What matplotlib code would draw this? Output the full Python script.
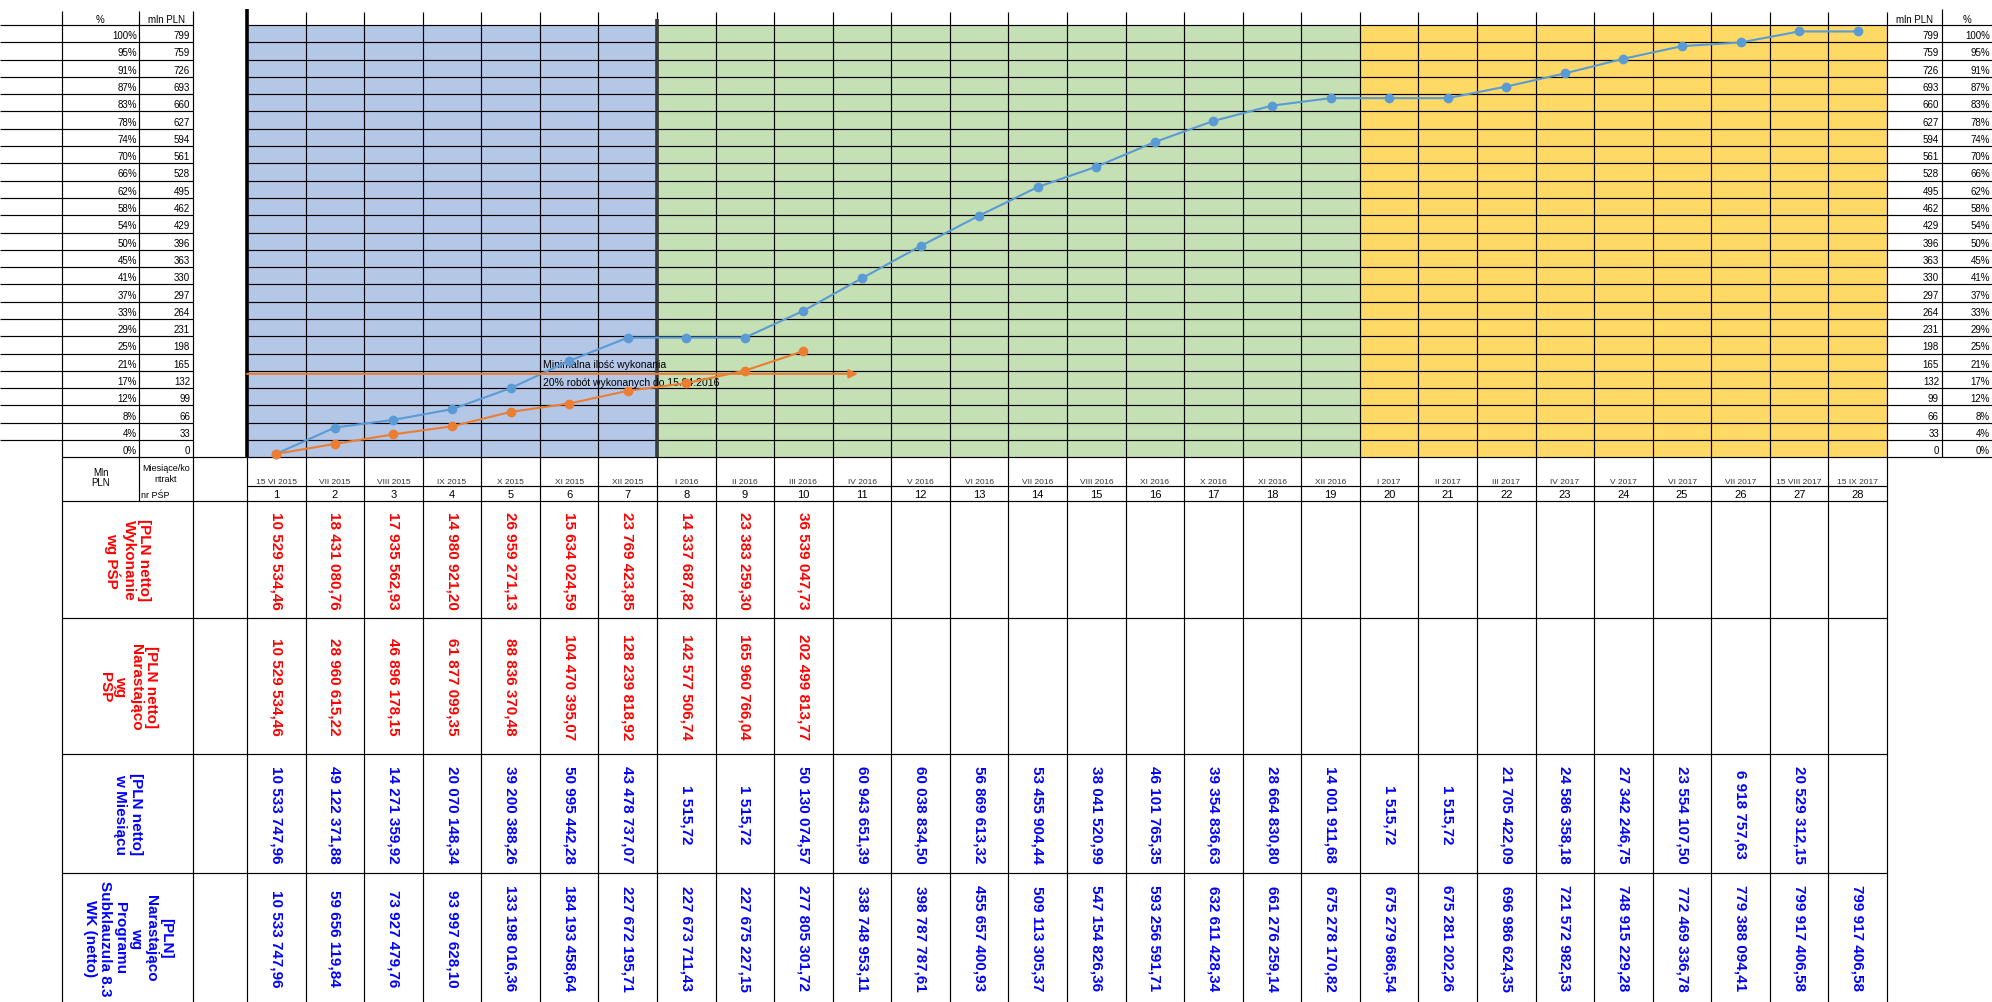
import matplotlib
matplotlib.use('Agg')
import matplotlib.pyplot as plt
from matplotlib.patches import Rectangle
import numpy as np

plt.rcParams['font.family'] = ['Liberation Sans', 'DejaVu Sans']

# data
months = ['15 VI 2015', 'VII 2015', 'VIII 2015', 'IX 2015', 'X 2015', 'XI 2015', 'XII 2015',
          'I 2016', 'II 2016', 'III 2016', 'IV 2016', 'V 2016', 'VI 2016', 'VII 2016',
          'VIII 2016', 'XI 2016', 'X 2016', 'XI 2016', 'XII 2016', 'I 2017', 'II 2017',
          'III 2017', 'IV 2017', 'V 2017', 'VI 2017', 'VII 2017', '15 VIII 2017', '15 IX 2017']
month_nr = np.arange(1, 29)

pct_labels = ['100%', '95%', '91%', '87%', '83%', '78%', '74%', '70%', '66%', '62%', '58%',
              '54%', '50%', '45%', '41%', '37%', '33%', '29%', '25%', '21%', '17%', '12%',
              '8%', '4%', '0%']
mln_labels = ['799', '759', '726', '693', '660', '627', '594', '561', '528', '495', '462',
              '429', '396', '363', '330', '297', '264', '231', '198', '165', '132', '99',
              '66', '33', '0']

wykonanie = [10529534.46, 18431080.76, 17935562.93, 14980921.20, 26959271.13, 15634024.59,
             23769423.85, 14337687.82, 23383259.30, 36539047.73]
narast_psp = [10529534.46, 28960615.22, 46896178.15, 61877099.35, 88836370.48, 104470395.07,
              128239818.92, 142577506.74, 165960766.04, 202499813.77]
w_miesiacu = [10533747.96, 49122371.88, 14271359.92, 20070148.34, 39200388.26, 50995442.28,
              43478737.07, 1515.72, 1515.72, 50130074.57, 60943651.39, 60038834.50,
              56869613.32, 53455904.44, 38041520.99, 46101765.35, 39354836.63, 28664830.80,
              14001911.68, 1515.72, 1515.72, 21705422.09, 24586358.18, 27342246.75,
              23554107.50, 6918757.63, 20529312.15]
narast_prog = [10533747.96, 59656119.84, 73927479.76, 93997628.10, 133198016.36, 184193458.64,
               227672195.71, 227673711.43, 227675227.15, 277805301.72, 338748953.11,
               398787787.61, 455657400.93, 509113305.37, 547154826.36, 593256591.71,
               632611428.34, 661276259.14, 675278170.82, 675279686.54, 675281202.26,
               696986624.35, 721572982.53, 748915229.28, 772469336.78, 779388094.41,
               799917406.58, 799917406.58]

threshold = 160        # mln PLN, 20% of the contract
threshold_until = 10.93  # 15.04.2016 on the month scale

# sheet layout in pixels
W, H = 1992, 1003
x_left, x_right = 247, 1887
col_w = (x_right - x_left) / 28
edges = x_left + np.arange(29) * col_w
centers = edges[:-1] + col_w / 2
y_top, y_bot = 26, 458.3
row_h = (y_bot - y_top) / 25
row_ys = y_top + np.arange(26) * row_h
table_rows = [502, 619, 755, 874, 1003]

phases = [(1, 7, '#B4C7E7'), (8, 19, '#C5E0B4'), (20, 28, '#FFD966')]


def fmt(v):
    return f'{v:,.2f}'.replace(',', ' ').replace('.', ',')


fig = plt.figure(figsize=(W / 100, H / 100), dpi=100)
sheet = fig.add_axes([0, 0, 1, 1])
sheet.set_xlim(0, W)
sheet.set_ylim(H, 0)
sheet.axis('off')

# coloured phases
for c0, c1, col in phases:
    sheet.add_patch(Rectangle((edges[c0 - 1], y_top), edges[c1] - edges[c0 - 1], y_bot - y_top,
                              fc=col, lw=0, zorder=0))

lw = 0.85
# grid of the chart part
sheet.hlines(row_ys[:-1], 0, 193, color='black', lw=lw)
sheet.hlines(row_ys, x_left, W, color='black', lw=lw)
sheet.hlines(y_bot, 62, x_left, color='black', lw=lw)
sheet.vlines([62, 193], 12, H, color='black', lw=lw)
sheet.vlines(139, 12, 502, color='black', lw=lw)
sheet.vlines(edges[1:], 13, H, color='black', lw=lw)
sheet.vlines(1942, 10, y_bot, color='black', lw=lw)
sheet.vlines(x_left, y_bot, H, color='black', lw=lw)
sheet.vlines(x_left, 10, y_bot, color='black', lw=2.6)
sheet.vlines(edges[7], 20, y_bot, color='#3a3a3a', lw=2.6)
# table grid
sheet.hlines(487, x_left, x_right, color='black', lw=lw)
sheet.hlines(table_rows[:-1], 62, x_right, color='black', lw=lw)

# axis labels in cells
sheet.text(100.5, 20, '%', ha='center', va='center', fontsize=7)
sheet.text(166, 20, 'mln PLN', ha='center', va='center', fontsize=7)
sheet.text(1914.5, 20, 'mln PLN', ha='center', va='center', fontsize=7)
sheet.text(1967, 20, '%', ha='center', va='center', fontsize=7)
for i, (p, m) in enumerate(zip(pct_labels, mln_labels)):
    yc = y_top + (i + 0.5) * row_h + 1.5
    sheet.text(137, yc, p, ha='right', va='center', fontsize=7)
    sheet.text(190, yc, m, ha='right', va='center', fontsize=7)
    sheet.text(1939, yc, m, ha='right', va='center', fontsize=7)
    sheet.text(1990, yc, p, ha='right', va='center', fontsize=7)

sheet.text(101, 478, 'Mln\nPLN', ha='center', va='center', fontsize=7, linespacing=1.1)
sheet.text(166, 474, 'Miesiące/ko\nntrakt', ha='center', va='center', fontsize=6.5, linespacing=1.3)
sheet.text(141, 495, 'nr PŚP', ha='left', va='center', fontsize=6.5)

for j in range(28):
    sheet.text(centers[j], 482, months[j], ha='center', va='center', fontsize=6, color='#333333')
    sheet.text(centers[j], 495, str(month_nr[j]), ha='center', va='center', fontsize=8)

# table rows
rows = [('[PLN netto]\nWykonanie\nwg PŚP', wykonanie, 'red'),
        ('[PLN netto]\nNarastająco\nwg\nPŚP', narast_psp, 'red'),
        ('[PLN netto]\nw Miesiącu', w_miesiacu, 'blue'),
        ('[PLN]\nNarastająco\nwg\nProgramu\nSubklauzula 8.3\nWK (netto)', narast_prog, 'blue')]
for r, (label, vals, col) in enumerate(rows):
    yc = (table_rows[r] + table_rows[r + 1]) / 2
    sheet.text(128, yc, label, rotation=-90, ha='center', va='center', fontsize=11,
               fontweight='bold', color=col, multialignment='center', linespacing=1.1)
    for j, v in enumerate(vals):
        sheet.text(centers[j], yc, fmt(v), rotation=-90, ha='center', va='center',
                   fontsize=11, fontweight='bold', color=col)

sheet.text(543, 365, 'Minimalna ilość wykonania', ha='left', va='center', fontsize=7.5)
sheet.text(543, 383, '20% robót wykonanych do 15.04.2016', ha='left', va='center', fontsize=7.5)

# the chart itself
cax = fig.add_axes([x_left / W, 1 - y_bot / H, (x_right - x_left) / W, (y_bot - y_top) / H])
cax.patch.set_alpha(0)
cax.axis('off')
cax.set_xlim(0.5, 28.5)
cax.set_ylim(4, 812)

cax.plot(month_nr, np.array(narast_prog) / 1e6, color='#5B9BD5', lw=1.5, marker='o', ms=6,
         clip_on=False)
cax.plot(month_nr[:len(narast_psp)], np.array(narast_psp) / 1e6, color='#ED7D31', lw=1.5,
         marker='o', ms=6, clip_on=False)
cax.annotate('', xy=(threshold_until, threshold), xytext=(0.5, threshold),
             arrowprops=dict(arrowstyle='-|>', color='#ED7D31', lw=1.5, mutation_scale=13,
                             shrinkA=0, shrinkB=0))

fig.savefig('out.png', dpi=100)
